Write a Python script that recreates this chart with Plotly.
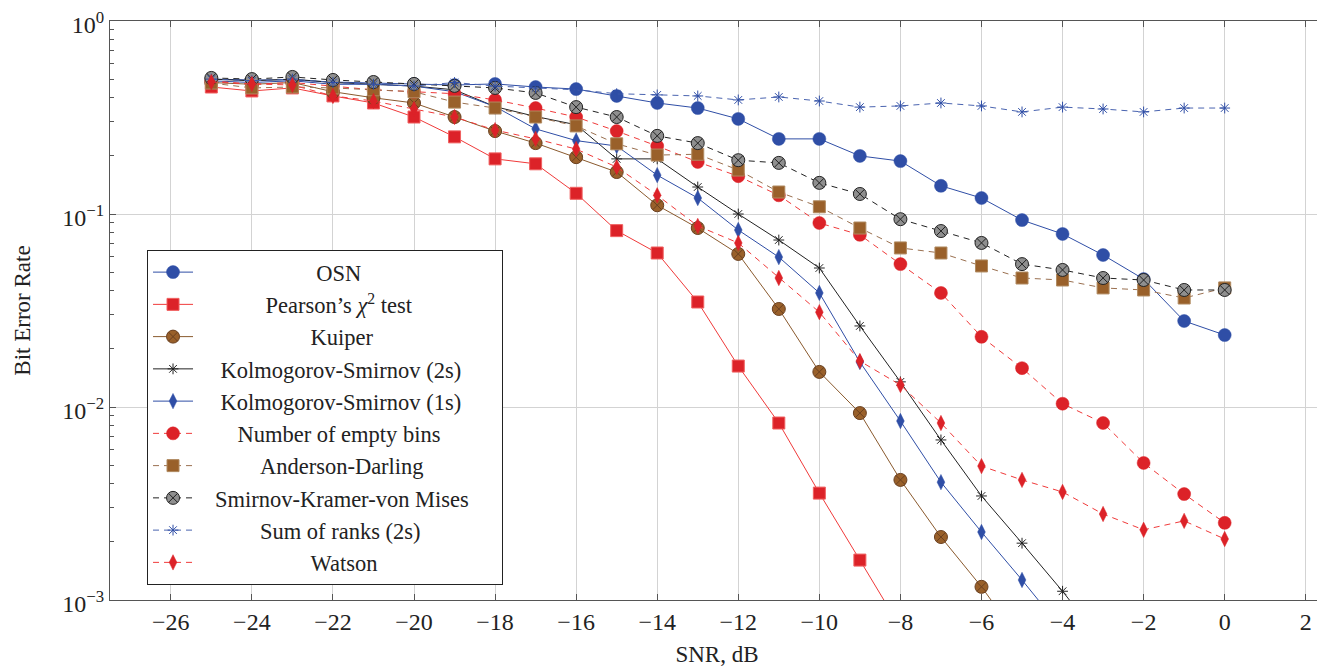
import plotly.graph_objects as go

snr = list(range(-25, 1))

osn = [0.50, 0.495, 0.495, 0.483, 0.477, 0.472, 0.466, 0.472, 0.455, 0.444, 0.409, 0.376, 0.354,
       0.311, 0.245, 0.245, 0.2, 0.188, 0.14, 0.121, 0.093, 0.0788, 0.0613, 0.046, 0.0279, 0.0236]
pearson = [0.455, 0.434, 0.45, 0.409, 0.376, 0.318, 0.251, 0.193, 0.182, 0.128, 0.082, 0.0628,
           0.035, 0.0163, 0.00826, 0.00358, 0.00161, 0.00072]
kuiper = [0.48, 0.47, 0.48, 0.43, 0.40, 0.376, 0.318, 0.269, 0.233, 0.197, 0.165, 0.111, 0.0846,
          0.0621, 0.0322, 0.0152, 0.0093, 0.00419, 0.00212, 0.00117, 0.0006]
ks2s = [0.50, 0.49, 0.50, 0.48, 0.47, 0.46, 0.44, 0.36, 0.32, 0.29, 0.193, 0.193, 0.138, 0.1,
        0.0733, 0.0525, 0.0263, 0.0135, 0.00675, 0.00346, 0.00197, 0.00111, 0.0006]
ks1s = [0.49, 0.48, 0.49, 0.47, 0.47, 0.46, 0.43, 0.36, 0.276, 0.24, 0.225, 0.159, 0.121, 0.0826,
        0.0598, 0.039, 0.0171, 0.00846, 0.00408, 0.00225, 0.00127, 0.0007]
empty_bins = [0.49, 0.47, 0.48, 0.46, 0.44, 0.43, 0.42, 0.39, 0.354, 0.318, 0.269, 0.225, 0.186,
              0.157, 0.125, 0.0898, 0.078, 0.055, 0.039, 0.0231, 0.0159, 0.0104, 0.00826, 0.00513,
              0.00354, 0.00251]
anderson = [0.477, 0.45, 0.455, 0.45, 0.44, 0.43, 0.38, 0.354, 0.318, 0.286, 0.231, 0.202, 0.204,
            0.169, 0.13, 0.109, 0.0846, 0.0667, 0.0628, 0.0538, 0.0466, 0.0455, 0.0414, 0.0404,
            0.0367, 0.0414]
skvm = [0.507, 0.5, 0.513, 0.495, 0.483, 0.472, 0.461, 0.45, 0.424, 0.358, 0.318, 0.254, 0.233,
        0.19, 0.184, 0.145, 0.127, 0.094, 0.0816, 0.0708, 0.055, 0.0513, 0.0466, 0.0455, 0.0404,
        0.0404]
sum_ranks = [0.5, 0.49, 0.5, 0.48, 0.47, 0.46, 0.48, 0.46, 0.45, 0.44, 0.42, 0.414, 0.409, 0.39,
             0.404, 0.385, 0.358, 0.363, 0.376, 0.363, 0.338, 0.358, 0.35, 0.338, 0.354, 0.354]
watson = [0.483, 0.472, 0.466, 0.409, 0.385, 0.35, 0.318, 0.272, 0.245, 0.217, 0.175, 0.125,
          0.0867, 0.0708, 0.0466, 0.031, 0.0173, 0.013, 0.00826, 0.00494, 0.00419, 0.00363,
          0.00279, 0.00231, 0.00257, 0.00207]

names = ["OSN", "Pearson’s <i>χ</i><sup>2</sup> test", "Kuiper", "Kolmogorov-Smirnov (2s)",
         "Kolmogorov-Smirnov (1s)", "Number of empty bins", "Anderson-Darling",
         "Smirnov-Kramer-von Mises", "Sum of ranks (2s)", "Watson"]

x_tickvals = list(range(-26, 3, 2))
y_tickvals = [1, 0.1, 0.01, 0.001]
y_ticktext = ["10<sup>0</sup>", "10<sup>−1</sup>", "10<sup>−2</sup>", "10<sup>−3</sup>"]

# no-break spaces used to centre each legend label (style only): (leading, trailing)
legend_pad = [(21, 0), (12, 0), (20, 0), (4, 0), (4, 0), (7, 0), (11, 0), (3, 5), (11, 0), (20, 0)]

BLUE = "#2f4ea6"
RED = "#dc2228"
BROWN = "#99602a"
BLACK = "#222222"
GRAY = "#8f8f8f"
DASH = "6px,5px"

styles = [
    (osn, dict(color=BLUE, width=1), dict(symbol="circle", size=13, color=BLUE, line=dict(color=BLUE, width=0.5))),
    (pearson, dict(color="#f03a3a", width=1), dict(symbol="square", size=12, color=RED, line=dict(color="#f06060", width=1))),
    (kuiper, dict(color="#8a5a2e", width=1), dict(symbol="circle-x", size=13, color=BROWN, line=dict(color="#6a4020", width=1))),
    (ks2s, dict(color=BLACK, width=1), dict(symbol="asterisk-open", size=9, color=BLACK, line=dict(color=BLACK, width=1))),
    (ks1s, dict(color=BLUE, width=1), dict(symbol="diamond-tall", size=11, color=BLUE, line=dict(color=BLUE, width=0.5))),
    (empty_bins, dict(color="#f03a3a", width=1, dash=DASH), dict(symbol="circle", size=13, color=RED, line=dict(color=RED, width=0.5))),
    (anderson, dict(color="#9a7050", width=1, dash=DASH), dict(symbol="square", size=12, color=BROWN, line=dict(color="#b08a60", width=1))),
    (skvm, dict(color=BLACK, width=1, dash=DASH), dict(symbol="circle-x", size=13, color=GRAY, line=dict(color=BLACK, width=1))),
    (sum_ranks, dict(color="#4a64b0", width=1, dash=DASH), dict(symbol="asterisk-open", size=9, color=BLUE, line=dict(color=BLUE, width=1))),
    (watson, dict(color="#f03a3a", width=1, dash=DASH), dict(symbol="diamond-tall", size=11, color=RED, line=dict(color=RED, width=0.5))),
]

fig = go.Figure()
for name, (lead, trail), (vals, line, marker) in zip(names, legend_pad, styles):
    fig.add_trace(go.Scatter(x=snr[:len(vals)], y=vals, mode="lines+markers",
                             name="\u00a0" * lead + name + "\u00a0" * trail,
                             line=line, marker=marker, cliponaxis=True))

FAM = "Liberation Serif, Times New Roman, serif"
TXT = "#222222"

# the page body adds an 8px offset, so the figure is sized to fill the rest of the window
fig.update_layout(
    width=1317, height=659,
    margin=dict(l=102, r=1, t=13, b=67),
    plot_bgcolor="white", paper_bgcolor="white",
    font=dict(family=FAM, size=23, color=TXT),
    showlegend=True,
    legend=dict(x=0.0305, y=0.6045, xanchor="left", yanchor="top",
                bordercolor="#222222", borderwidth=1, bgcolor="white",
                font=dict(family=FAM, size=22.5, color=TXT),
                itemwidth=40, tracegroupgap=0),
    xaxis=dict(range=[-27.5, 2.45], tickvals=x_tickvals, ticks="inside", ticklen=6,
               tickcolor="#555", showline=True, linecolor="#555", linewidth=1.2, mirror="allticks",
               showgrid=True, gridcolor="#d3d3d3", gridwidth=1, zeroline=False, automargin=False,
               title=dict(text="SNR, dB", standoff=17, font=dict(size=23)),
               tickfont=dict(size=24), ticklabeloverflow="allow"),
    yaxis=dict(type="log", range=[-3, 0], tickvals=y_tickvals, ticktext=y_ticktext,
               ticks="inside", ticklen=6, tickcolor="#555", showline=True, linecolor="#555",
               linewidth=1.2, mirror="allticks", showgrid=True, gridcolor="#d3d3d3", gridwidth=1,
               zeroline=False, automargin=False, ticklabeloverflow="allow", ticklabelshift=4,
               title=dict(text="Bit Error Rate", standoff=25, font=dict(size=23)),
               tickfont=dict(size=24),
               minor=dict(ticks="inside", ticklen=4, tickcolor="#555", dtick="D1", showgrid=False)),
)

fig.write_html("out.html")
